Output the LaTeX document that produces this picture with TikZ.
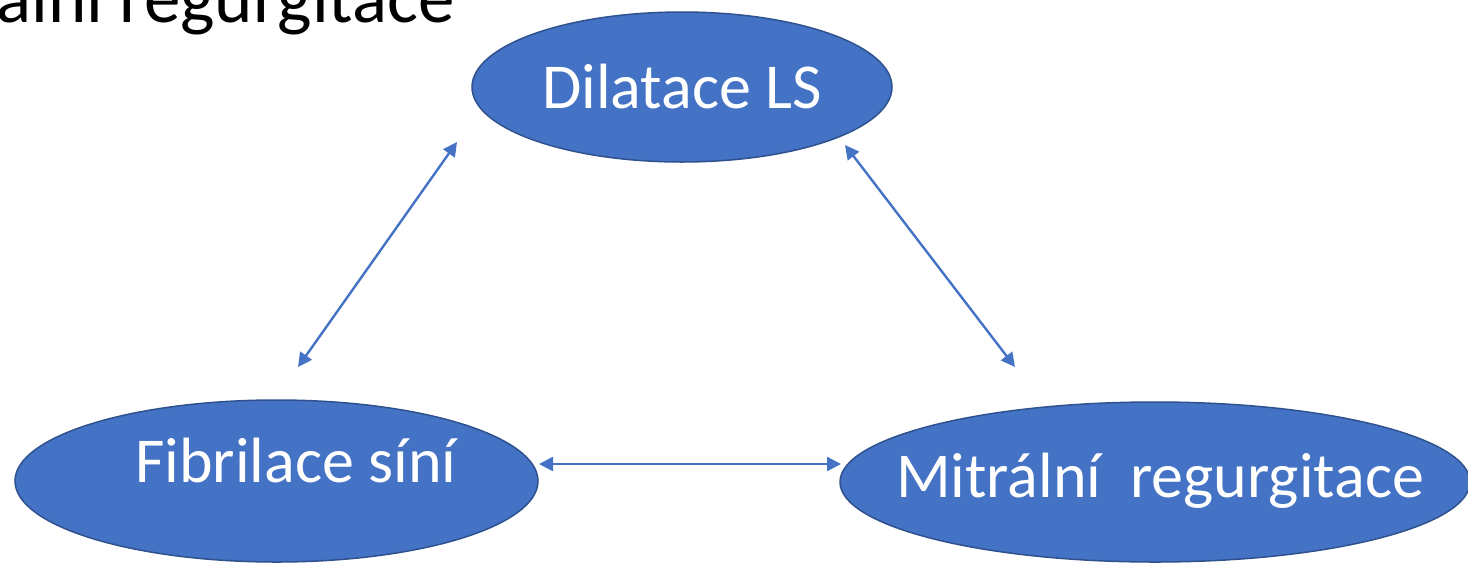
\documentclass[tikz,border=0pt]{standalone}
\usepackage{fontspec}
\setmainfont{Carlito}
\usetikzlibrary{shapes.geometric,arrows.meta}

\definecolor{cause fill color}{HTML}{4472C4}
\definecolor{cause border color}{HTML}{2F528F}
\colorlet{link color}{cause fill color}
\tikzset{
    x={0.5pt},
    y={-0.5pt},
    cause/.style 2 args={
        ellipse,
        fill=cause fill color,
        draw=cause border color,
        line width={0.75pt},
        inner sep=0pt,
        minimum width={#1},
        minimum height={#2},
    },
    cause label/.style={
        text=white,
        font={\fontsize{32}{38}\selectfont},
        inner sep=0pt,
    },
    link/.style={
        draw=link color,
        line width={1.2pt},
        {Triangle[length=7pt,width=7pt]}-{Triangle[length=7pt,width=7pt]},
    },
    title text/.style={
        font={\fontsize{36.5}{43}\selectfont},
        inner sep=0pt,
        anchor=base west,
    },
}

\begin{document}
\begin{tikzpicture}
\path[use as bounding box, clip] (0,0) rectangle (1468,564);
% heading, cut by the page edge
\node[title text] (heading) at (-4,22) {álni regurgitace};
% causes
\node[cause={210pt}{75pt},
    label={[cause label]center:Dilatace LS}] (dilatace) at (682,87) {};
\node[cause={261.5pt}{81pt},
    label={[cause label, xshift=9.75pt, yshift=10pt]center:Fibrilace síní}] (fibrilace) at (276.5,481) {};
\node[cause={315pt}{80pt},
    label={[cause label, xshift=2.5pt, yshift=0.75pt]center:Mitrální\ \ regurgitace}] (mitralni) at (1155,482) {};
% link ends
\coordinate (fib up) at (298,367);
\coordinate (dil left) at (457,142);
\coordinate (dil right) at (845,145);
\coordinate (mit up) at (1015,367);
\coordinate (fib right) at (539,464);
\coordinate (mit left) at (841,464);
% links
\path[link] (fib up) -- (dil left);
\path[link] (dil right) -- (mit up);
\path[link] (fib right) -- (mit left);
\end{tikzpicture}
\end{document}
